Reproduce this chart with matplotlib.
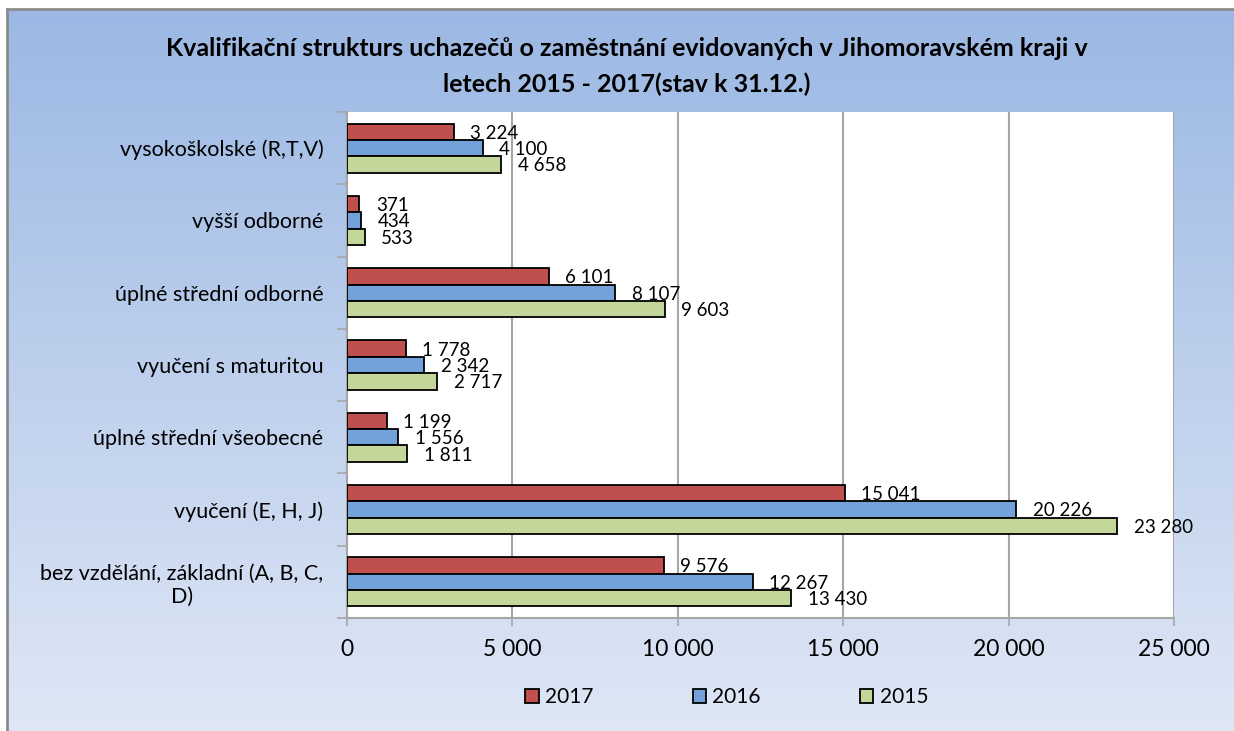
import numpy as np
import matplotlib
matplotlib.use("Agg")
import matplotlib.pyplot as plt
from matplotlib.patches import Patch
from matplotlib.lines import Line2D

plt.rcParams['font.family'] = ['Lato', 'DejaVu Sans']

# data (top to bottom as in the chart)
categories = ["vysokoškolské (R,T,V)", "vyšší odborné", "úplné střední odborné",
              "vyučení s maturitou", "úplné střední všeobecné", "vyučení (E, H, J)",
              "bez vzdělání, základní (A, B, C,\nD)"]
v2017 = [3224, 371, 6101, 1778, 1199, 15041, 9576]
v2016 = [4100, 434, 8107, 2342, 1556, 20226, 12267]
v2015 = [4658, 533, 9603, 2717, 1811, 23280, 13430]
years = ["2017", "2016", "2015"]
xticks = [0, 5000, 10000, 15000, 20000, 25000]

col_red = "#c0504d"
col_blue = "#73a2db"
col_green = "#c4d79b"

W, H = 1234, 731
fig = plt.figure(figsize=(W / 100, H / 100), dpi=100)

# gradient background inside the chart frame
bg = fig.add_axes([7 / W, 0, 1 - 7 / W, (H - 9) / H], zorder=-5)
top = np.array([155, 184, 228]) / 255
bot = np.array([223, 231, 245]) / 255
t = np.linspace(0, 1, 256)[:, None]
grad = (top * (1 - t) + bot * t)[:, None, :]
bg.imshow(grad, aspect='auto', extent=[0, 1, 0, 1], interpolation='bilinear')
bg.set_axis_off()
fig.add_artist(Line2D([7 / W, 7 / W], [0, (H - 9) / H], color="#8c8c8c", lw=2))
fig.add_artist(Line2D([7 / W, 1], [(H - 9) / H, (H - 9) / H], color="#8c8c8c", lw=2))

ax = fig.add_axes([347 / W, 1 - 618 / H, (1174 - 347) / W, (618 - 112) / H])
ax.set_facecolor("white")

n = len(categories)
y = np.arange(n)[::-1]
h = 0.226
series = [(v2017, col_red, h), (v2016, col_blue, 0), (v2015, col_green, -h)]
for vals, c, off in series:
    ax.barh(y + off, vals, height=h, color=c, edgecolor="black", linewidth=1.3, zorder=3)
    for yy, v in zip(y + off, vals):
        ax.annotate(f"{v:,}".replace(",", " "), (v, yy), xytext=(12, -1),
                    textcoords="offset points", va="center", ha="left", fontsize=13.5, zorder=4)

ax.set_xlim(0, 25000)
ax.set_ylim(-0.5, n - 0.5)
ax.set_xticks(xticks)
ax.set_xticklabels([f"{v:,}".replace(",", " ") for v in xticks], fontsize=16.5)
ax.xaxis.grid(True, color="#a6a6a6", lw=1.5, zorder=0)
ax.tick_params(axis="x", length=6, width=1.2, color="#a6a6a6", pad=9)

ax.set_yticks(y)
ax.set_yticklabels(categories, fontsize=15.5, multialignment="center")
ax.set_yticks(np.arange(-0.5, n, 1), minor=True)
ax.tick_params(axis="y", which="major", length=0, pad=17)
ax.tick_params(axis="y", which="minor", length=7, width=1.2, color="#a6a6a6")

for s in ["top", "right"]:
    ax.spines[s].set_visible(False)
ax.spines["left"].set_color("#a6a6a6")
ax.spines["left"].set_linewidth(1.5)
ax.spines["bottom"].set_color("#a6a6a6")
ax.spines["bottom"].set_linewidth(1.5)

fig.text(0.508, 1 - 48 / H, "Kvalifikační strukturs uchazečů o zaměstnání evidovaných v Jihomoravském kraji v",
         ha="center", va="center", fontsize=18, fontweight="bold")
fig.text(0.508, 1 - 84 / H, "letech 2015 - 2017(stav k 31.12.)",
         ha="center", va="center", fontsize=18, fontweight="bold")

handles = [Patch(facecolor=c, edgecolor="black", linewidth=1.3) for c in (col_red, col_blue, col_green)]
fig.legend(handles, years, loc="center", bbox_to_anchor=(0.589, 1 - 697 / H), ncol=3,
           frameon=False, fontsize=15, handlelength=0.65, handleheight=0.65,
           handletextpad=0.3, columnspacing=4.75)

fig.savefig("out.png", dpi=100)
